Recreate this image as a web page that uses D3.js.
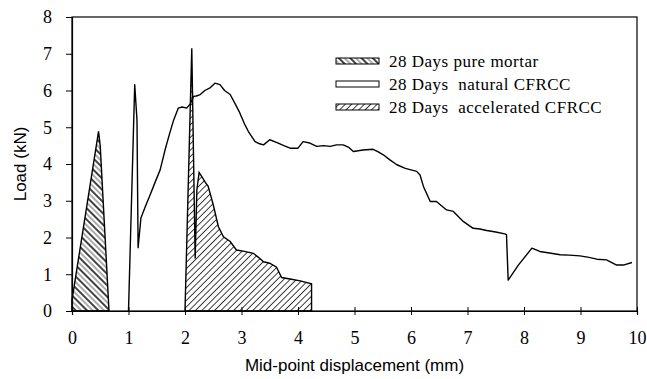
<!DOCTYPE html>
<html>
<head>
<meta charset="utf-8">
<script src="https://cdn.jsdelivr.net/npm/d3@7"></script>
<style>
body { margin: 0; background: #fff; }
svg { display: block; }
</style>
</head>
<body>
<svg class="chart" width="647" height="379"></svg>
<script>
// series (displacement mm, load kN)
var mortar_x = [0, 0, 0.47, 0.50, 0.655];
var mortar_y = [0, 0.3, 4.89, 4.48, 0];

var natural_x = [1.00, 1.11, 1.15, 1.17, 1.22, 1.30, 1.38, 1.47, 1.56, 1.65, 1.73, 1.80, 1.88, 1.95, 2.03, 2.10, 2.15, 2.20, 2.27, 2.35, 2.45, 2.53, 2.62, 2.70, 2.80, 2.90, 2.97, 3.05, 3.12, 3.24, 3.32, 3.39, 3.50, 3.65, 3.75, 3.86, 4.00, 4.09, 4.21, 4.33, 4.45, 4.57, 4.68, 4.80, 4.90, 4.98, 5.15, 5.33, 5.42, 5.51, 5.62, 5.75, 5.90, 6.10, 6.16, 6.22, 6.34, 6.45, 6.55, 6.63, 6.75, 6.85, 6.93, 7.10, 7.22, 7.34, 7.50, 7.66, 7.69, 7.72, 7.90, 8.14, 8.28, 8.45, 8.64, 8.80, 8.99, 9.15, 9.29, 9.46, 9.64, 9.76, 9.91];
var natural_y = [0, 6.16, 5.2, 1.72, 2.53, 2.85, 3.15, 3.5, 3.84, 4.4, 4.84, 5.2, 5.52, 5.55, 5.52, 5.65, 5.84, 5.85, 5.89, 6.0, 6.08, 6.2, 6.16, 6.0, 5.89, 5.6, 5.39, 5.1, 4.89, 4.61, 4.55, 4.52, 4.66, 4.57, 4.5, 4.43, 4.43, 4.61, 4.57, 4.48, 4.50, 4.48, 4.52, 4.52, 4.45, 4.34, 4.38, 4.40, 4.33, 4.25, 4.12, 3.98, 3.88, 3.80, 3.7, 3.39, 2.98, 2.98, 2.85, 2.75, 2.71, 2.55, 2.43, 2.25, 2.23, 2.19, 2.15, 2.10, 2.08, 0.84, 1.25, 1.71, 1.62, 1.58, 1.53, 1.52, 1.50, 1.46, 1.41, 1.39, 1.25, 1.25, 1.32];

var accel_x = [2.0, 2.12, 2.18, 2.21, 2.25, 2.30, 2.36, 2.41, 2.50, 2.59, 2.68, 2.80, 2.91, 3.03, 3.21, 3.30, 3.39, 3.50, 3.62, 3.71, 3.86, 4.04, 4.24, 4.24];
var accel_y = [0, 7.15, 1.43, 3.3, 3.77, 3.65, 3.5, 3.39, 2.89, 2.30, 2.02, 1.89, 1.66, 1.63, 1.57, 1.46, 1.34, 1.30, 1.19, 0.91, 0.87, 0.82, 0.74, 0];

var x_ticks = [0, 1, 2, 3, 4, 5, 6, 7, 8, 9, 10];
var y_ticks = [0, 1, 2, 3, 4, 5, 6, 7, 8];
var legend_labels = ["28 Days pure mortar", "28 Days  natural CFRCC", "28 Days  accelerated CFRCC"];

// plot box (window.top is read-only, so no "top" name here)
var plot_l = 72, plot_r = 637, plot_t = 17, plot_b = 311;
var serif = "'Liberation Serif', 'Times New Roman', serif";
var sans = "'Liberation Sans', Arial, sans-serif";
var chart = d3.select(".chart");

var x = d3.scaleLinear().domain([0, 10]).range([plot_l, plot_r]);
var y = d3.scaleLinear().domain([0, 8]).range([plot_b, plot_t]);

// hatch patterns
var defs = chart.append("defs");
function hatch(id, angle, size, widths) {
    var p = defs.append("pattern")
        .attr("id", id)
        .attr("patternUnits", "userSpaceOnUse")
        .attr("width", size).attr("height", size)
        .attr("patternTransform", "rotate(" + angle + ")");
    widths.forEach(function(w, i) {
        var lx = (i + 0.5) * size / widths.length;
        p.append("line")
            .attr("x1", lx).attr("y1", 0).attr("x2", lx).attr("y2", size)
            .attr("stroke", "#111").attr("stroke-width", w);
    });
}
hatch("mortar", -45, 8, [1.6, 0.7]);
hatch("accel", 45, 4.5, [0.8]);

function pts(xs, ys) {
    return xs.map(function(v, i) { return [v, ys[i]]; });
}
var line = d3.line().x(function(d) { return x(d[0]); }).y(function(d) { return y(d[1]); });

chart.append("path")
    .attr("d", line(pts(mortar_x, mortar_y)) + "Z")
    .attr("fill", "url(#mortar)").attr("stroke", "#000").attr("stroke-width", 1.4);

chart.append("path")
    .attr("d", line(pts(accel_x, accel_y)) + "Z")
    .attr("fill", "url(#accel)").attr("stroke", "#000").attr("stroke-width", 1.4);

chart.append("path")
    .attr("d", line(pts(natural_x, natural_y)))
    .attr("fill", "none").attr("stroke", "#000").attr("stroke-width", 1.4)
    .attr("stroke-linejoin", "round");

// frame
chart.append("rect")
    .attr("x", plot_l).attr("y", plot_t).attr("width", plot_r - plot_l).attr("height", plot_b - plot_t)
    .attr("fill", "none").attr("stroke", "#000").attr("stroke-width", 1.2);

var xAxis = chart.append("g")
    .attr("transform", "translate(0," + plot_b + ")")
    .call(d3.axisBottom(x).tickValues(x_ticks).tickSize(4).tickPadding(16).tickFormat(d3.format("d")));
var yAxis = chart.append("g")
    .attr("transform", "translate(" + plot_l + ",0)")
    .call(d3.axisLeft(y).tickValues(y_ticks).tickSize(6).tickPadding(14).tickFormat(d3.format("d")));

// x ticks cross the axis line
xAxis.selectAll(".tick line").attr("y1", -4);

[xAxis, yAxis].forEach(function(a) {
    a.select(".domain").attr("stroke-width", 1.2);
    a.selectAll("text")
        .style("font-family", serif)
        .style("font-size", "18px").attr("fill", "#000");
});

chart.append("text")
    .attr("x", (plot_l + plot_r) / 2).attr("y", 371)
    .attr("text-anchor", "middle")
    .style("font-family", sans).style("font-size", "17px")
    .text("Mid-point displacement (mm)");

chart.append("text")
    .attr("transform", "translate(26," + (plot_t + plot_b) / 2 + ") rotate(-90)")
    .attr("text-anchor", "middle")
    .style("font-family", sans).style("font-size", "17px")
    .text("Load (kN)");

// legend
var fills = ["url(#mortar)", "#fff", "url(#accel)"];
var legend = chart.append("g").attr("transform", "translate(336,58)");
legend_labels.forEach(function(lab, i) {
    var g = legend.append("g").attr("transform", "translate(0," + (i * 23) + ")");
    g.append("rect")
        .attr("width", 43).attr("height", 6)
        .attr("fill", fills[i]).attr("stroke", "#000").attr("stroke-width", 1);
    g.append("text")
        .attr("x", 53).attr("y", 9)
        .style("font-family", serif).style("font-size", "17px")
        .style("letter-spacing", "0.5px")
        .style("white-space", "pre")
        .text(lab);
});
</script>
</body>
</html>
